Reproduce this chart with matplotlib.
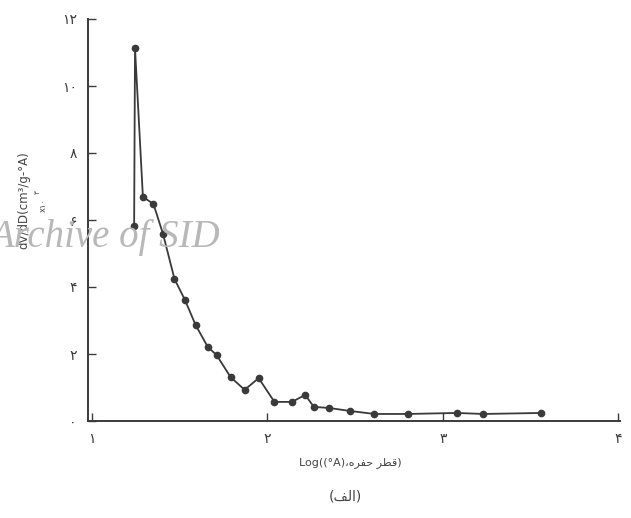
import numpy as np
import matplotlib
matplotlib.use("Agg")
import matplotlib.pyplot as plt

# log of pore diameter (A) and dV/dD (x10^-3)
log_d = [1.24, 1.245, 1.29, 1.35, 1.405, 1.47, 1.53, 1.59, 1.66, 1.71, 1.79, 1.87,
         1.95, 2.04, 2.14, 2.215, 2.265, 2.35, 2.47, 2.61, 2.80, 3.08, 3.23, 3.56]
dv_dd = [5.82, 11.13, 6.69, 6.48, 5.58, 4.24, 3.61, 2.87, 2.21, 1.97, 1.31, 0.93,
         1.28, 0.57, 0.57, 0.78, 0.42, 0.39, 0.30, 0.21, 0.21, 0.24, 0.21, 0.24]

x_ticks = [1, 2, 3, 4]
x_tick_labels = ["۱", "۲", "۳", "۴"]
y_ticks = [0, 2, 4, 6, 8, 10, 12]
y_tick_labels = ["۰", "۲", "۴", "۶", "۸", "۱۰", "۱۲"]

# Persian text in visual order (presentation forms), matplotlib does no shaping
pore_diam = "\uFEE9\uFEAE\uFED4\uFEA3 \uFEAE\uFEC4\uFED7"
caption = "(\uFED2\uFEDF\uFE8D)"

ink = "#3a3a3a"
plt.rcParams['font.family'] = ['DejaVu Sans']

fig = plt.figure(figsize=(6.31, 5.18), dpi=100)
ax = fig.add_axes([88 / 631, 1 - 421 / 518, 532 / 631, 402 / 518])

ax.plot(log_d, dv_dd, color=ink, linewidth=1.3, marker='o', markersize=4.5,
        markerfacecolor=ink, markeredgecolor=ink)

ax.set_xlim(0.977, 4.01)
ax.set_ylim(0, 12)
ax.set_xticks(x_ticks)
ax.set_xticklabels(x_tick_labels, fontsize=10, color=ink)
ax.set_yticks(y_ticks)
ax.set_yticklabels(y_tick_labels, fontsize=10, color=ink)
ax.tick_params(direction='in', length=6, width=1, colors=ink, pad=8)

for side in ['top', 'right']:
    ax.spines[side].set_visible(False)
for side in ['left', 'bottom']:
    ax.spines[side].set_color(ink)
    ax.spines[side].set_linewidth(1.4)

fig.text(24 / 631, 1 - 200 / 518, "dV/dD(cm³/g-°A)", rotation=90, fontsize=8.5,
         color="#444444", ha='center', va='center')
fig.text(43 / 631, 1 - 205 / 518, "x۱۰", rotation=90, fontsize=6,
         color="#444444", ha='center', va='center')
fig.text(38 / 631, 1 - 192 / 518, "۳", rotation=90, fontsize=5,
         color="#444444", ha='center', va='center')

fig.text(350 / 631, 1 - 463 / 518, "Log((°A)،" + pore_diam + ")", fontsize=8,
         color="#444444", ha='center', va='center')
fig.text(345 / 631, 1 - 497 / 518, caption, fontsize=10,
         color="#444444", ha='center', va='center')

# scan watermark
fig.text(-10 / 631, 1 - 238 / 518, "Archive of SID", fontsize=28, color="#b8b8b8",
         family='Liberation Serif', style='italic', ha='left', va='center')

fig.savefig("out.png", dpi=100)
